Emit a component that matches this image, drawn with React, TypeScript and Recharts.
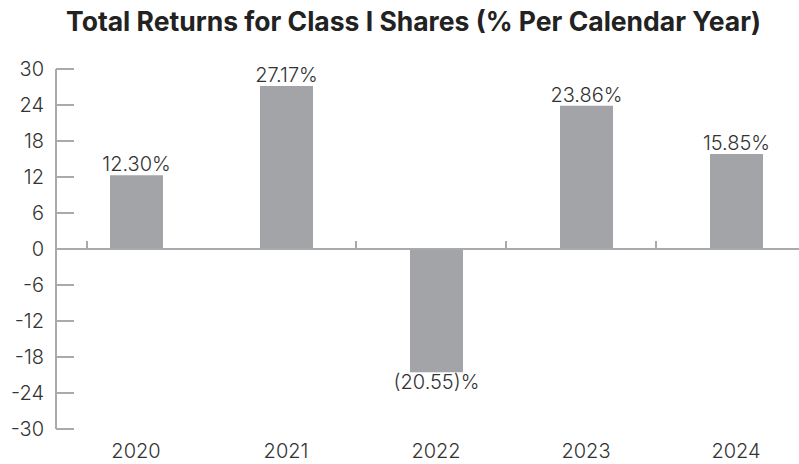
import React from "react";
import { BarChart, Bar, XAxis, YAxis, ReferenceLine, LabelList } from "recharts";

const years = ["2020", "2021", "2022", "2023", "2024"];
const returns = [12.3, 27.17, -20.55, 23.86, 15.85];
const yTicks = [30, 24, 18, 12, 6, 0, -6, -12, -18, -24, -30];
const title = "Total Returns for Class I Shares (% Per Calendar Year)";

const data = years.map((y, i) => ({ year: y, value: returns[i] }));

const W = 811;
const H = 464;
const TOP = 69;
const XH = 35;
const PLOT_H = H - TOP - XH;
const YW = 56;
const PAD_L = 5;
const BAND = (W - YW - PAD_L) / years.length;
const ZERO_Y = TOP + PLOT_H * (30 / 60);

const AXIS = "#a9aaad";
const BAR = "#a3a4a8";
const TEXT = "#333333";
const FONT = "Inter, 'Noto Sans', sans-serif";

const YTick = (props: any) => {
  const { x, y, payload } = props;
  return (
    <g>
      <line x1={x} x2={x + 18} y1={y} y2={y} stroke={AXIS} strokeWidth={2} />
      <text x={x - 12} y={y} dy={7} textAnchor="end" fontSize={20} fontWeight={300} fill={TEXT} fontFamily={FONT}>
        {payload.value}
      </text>
    </g>
  );
};

const XTick = (props: any) => {
  const { x, y, payload, index } = props;
  let mx: number | null = null;
  if (index === 0) mx = x - 49;
  else if (index >= 2) mx = x - BAND / 2 - 5;
  return (
    <g>
      {mx !== null && (
        <line x1={mx} x2={mx} y1={ZERO_Y} y2={ZERO_Y - 8} stroke={AXIS} strokeWidth={2} />
      )}
      <text x={x} y={y} dy={29} textAnchor="middle" fontSize={20} fontWeight={300} fill={TEXT} fontFamily={FONT}>
        {payload.value}
      </text>
    </g>
  );
};

const ValueLabel = (props: any) => {
  const { x, y, width, height, value } = props;
  const neg = value < 0;
  const txt = neg ? `(${Math.abs(value).toFixed(2)})%` : `${value.toFixed(2)}%`;
  const cx = x + width / 2;
  const top = Math.min(y, y + height);
  const bottom = Math.max(y, y + height);
  const ty = neg ? bottom + 17 : top - 4;
  return (
    <text x={cx} y={ty} textAnchor="middle" fontSize={20} fontWeight={300} fill={TEXT} fontFamily={FONT}>
      {txt}
    </text>
  );
};

export default function App() {
  return (
    <div
      style={{
        position: "absolute",
        left: 0,
        top: 0,
        width: 799,
        height: 464,
        overflow: "hidden",
        background: "#fff",
      }}
    >
      <div
        style={{
          position: "absolute",
          left: 14,
          top: 6,
          width: 799,
          textAlign: "center",
          fontFamily: FONT,
          fontWeight: 700,
          fontSize: 26.5,
          lineHeight: "30px",
          color: "#222",
          whiteSpace: "nowrap",
        }}
      >
        {title}
      </div>
      <div style={{ position: "absolute", left: 0, top: 0 }}>
        <BarChart width={W} height={H} data={data} margin={{ top: TOP, right: 0, bottom: 0, left: 0 }}>
          <XAxis
            dataKey="year"
            axisLine={false}
            tickLine={false}
            tickSize={0}
            tickMargin={0}
            height={XH}
            padding={{ left: PAD_L, right: 0 }}
            tick={<XTick />}
            interval={0}
          />
          <YAxis
            domain={[-30, 30]}
            ticks={yTicks}
            interval={0}
            width={YW}
            axisLine={{ stroke: AXIS, strokeWidth: 2 }}
            tickLine={false}
            tickSize={0}
            tickMargin={0}
            tick={<YTick />}
          />
          <ReferenceLine y={0} stroke={AXIS} strokeWidth={2} />
          <Bar dataKey="value" fill={BAR} barSize={53} isAnimationActive={false}>
            <LabelList dataKey="value" content={<ValueLabel />} />
          </Bar>
        </BarChart>
      </div>
    </div>
  );
}
